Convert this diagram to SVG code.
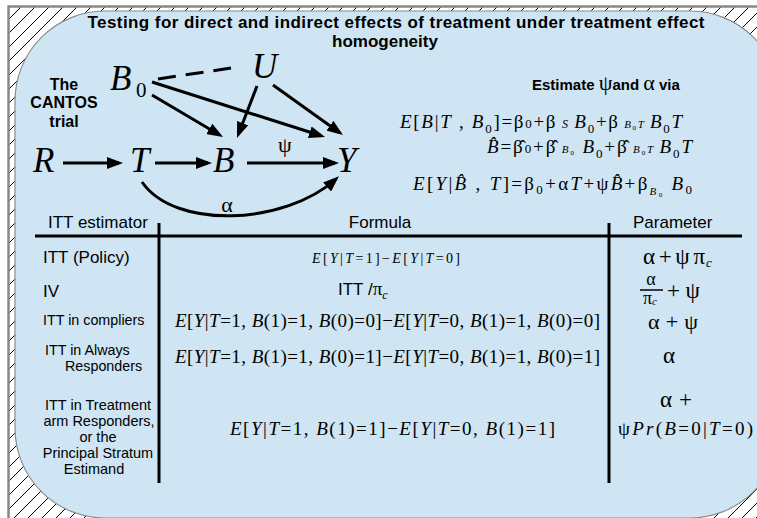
<svg xmlns="http://www.w3.org/2000/svg" width="757" height="518" viewBox="0 0 757 518">
<defs>
<pattern id="hatch" patternUnits="userSpaceOnUse" width="14" height="14">
<path d="M-1,15 L15,-1 M-1,1 L1,-1 M13,15 L15,13" stroke="#000" stroke-width="1" fill="none"/>
</pattern>
<marker id="arr" markerUnits="userSpaceOnUse" markerWidth="16" markerHeight="12" refX="12" refY="6" orient="auto">
<path d="M0,0 L16,6 L0,12 z" fill="#000"/>
</marker>
<style>
.sans { font-family: "Liberation Sans", Arial, sans-serif; fill: #000; }
.serif { font-family: "Liberation Serif", "Times New Roman", serif; fill: #000; }
.b { font-weight: bold; }
.i { font-style: italic; }
.dag { font-size: 35px; font-style: italic; }
.conn { stroke: #000; stroke-width: 3; fill: none; }
.rule { stroke: #000; stroke-width: 3; fill: none; }
</style>
</defs>

<rect x="0" y="0" width="757" height="518" fill="#fff"/>
<rect x="9" y="7" width="748" height="511" fill="url(#hatch)"/>
<rect x="15" y="11" width="765" height="507" rx="90" ry="90" fill="#cfe5f3" stroke="#8c8c8c" stroke-width="1.2"/>
<path d="M8.5,518 V6.5 H757" fill="none" stroke="#888" stroke-width="2.5"/>

<g id="title">
<text class="sans b" x="396" y="28" font-size="17" textLength="617" text-anchor="middle">Testing for direct and indirect effects of treatment under treatment effect</text>
<text class="sans b" x="385" y="47" font-size="17" text-anchor="middle">homogeneity</text>
</g>

<g id="cantos-label">
<text class="sans b" font-size="16" text-anchor="middle"><tspan x="64" y="90">The</tspan><tspan x="64" y="108">CANTOS</tspan><tspan x="64" y="127">trial</tspan></text>
</g>

<g id="connectors">
<line class="conn" x1="158" y1="79" x2="231" y2="68" stroke-dasharray="18 10"/>
<line class="conn" x1="152" y1="95" x2="219.6" y2="135" marker-end="url(#arr)"/>
<line class="conn" x1="152" y1="82" x2="321.2" y2="135.8" marker-end="url(#arr)"/>
<line class="conn" x1="257" y1="86" x2="238.4" y2="134.3" marker-end="url(#arr)"/>
<line class="conn" x1="273" y1="85" x2="339.7" y2="132.7" marker-end="url(#arr)"/>
<line class="conn" x1="63" y1="163" x2="119" y2="163" marker-end="url(#arr)"/>
<line class="conn" x1="155" y1="163" x2="208" y2="163" marker-end="url(#arr)"/>
<line class="conn" x1="247" y1="163" x2="335" y2="163" marker-end="url(#arr)"/>
<path class="conn" d="M142,182 C175,230 285,225 336,179" marker-end="url(#arr)"/>
<text class="serif" x="285" y="152" font-size="22" text-anchor="middle">ψ</text>
<text class="serif" x="227" y="212" font-size="22" text-anchor="middle">α</text>
</g>

<g id="node-B0"><text class="serif dag" x="110" y="90">B</text><text class="serif" x="136" y="97" font-size="21">0</text></g>
<g id="node-U"><text class="serif dag" x="252" y="78">U</text></g>
<g id="node-R"><text class="serif dag" x="33" y="172">R</text></g>
<g id="node-T"><text class="serif dag" x="130" y="172">T</text></g>
<g id="node-B"><text class="serif dag" x="213" y="172">B</text></g>
<g id="node-Y"><text class="serif dag" x="337" y="172">Y</text></g>

<g id="estimate">
<text x="532" y="90"><tspan class="sans b" font-size="15">Estimate </tspan><tspan class="serif" font-size="22">ψ</tspan><tspan class="sans b" font-size="15">and </tspan><tspan class="serif" font-size="22">α</tspan><tspan class="sans b" font-size="15"> via</tspan></text>
<text class="serif" x="400" y="128" font-size="19" textLength="282"><tspan class="i">E</tspan>[<tspan class="i">B</tspan>|<tspan class="i">T</tspan> , <tspan class="i">B</tspan><tspan font-size="13" dy="5">0</tspan><tspan dy="-5">]=β</tspan><tspan font-size="13">0</tspan>+β<tspan font-size="12" class="i"> S </tspan><tspan class="i">B</tspan><tspan font-size="13" dy="5">0</tspan><tspan dy="-5">+β</tspan><tspan font-size="11" class="i"> B</tspan><tspan font-size="7" dy="2">0</tspan><tspan font-size="11" class="i" dy="-2">T </tspan><tspan class="i">B</tspan><tspan font-size="13" dy="5">0</tspan><tspan class="i" dy="-5">T</tspan></text>
<text class="serif" x="487" y="153" font-size="19" textLength="205"><tspan class="i">B̂</tspan>=β̂<tspan font-size="13">0</tspan>+β̂<tspan font-size="11" class="i"> B</tspan><tspan font-size="7" dy="2">0</tspan><tspan class="i" dy="-2"> B</tspan><tspan font-size="13" dy="5">0</tspan><tspan dy="-5">+β̂</tspan><tspan font-size="11" class="i"> B</tspan><tspan font-size="7" dy="2">0</tspan><tspan font-size="11" class="i" dy="-2">T </tspan><tspan class="i">B</tspan><tspan font-size="13" dy="5">0</tspan><tspan class="i" dy="-5">T</tspan></text>
<text class="serif" x="413" y="190" font-size="19" textLength="279"><tspan class="i">E</tspan>[<tspan class="i">Y</tspan>|<tspan class="i">B̂</tspan> , <tspan class="i">T</tspan>]=β<tspan font-size="13" dy="4">0</tspan><tspan dy="-4">+α</tspan><tspan class="i">T</tspan>+ψ<tspan class="i">B̂</tspan>+β<tspan font-size="11" class="i" dy="5">B</tspan><tspan font-size="7" dy="2">0</tspan><tspan class="i" dy="-7"> B</tspan><tspan font-size="13" dy="4">0</tspan></text>
</g>

<g id="table">
<line class="rule" x1="35" y1="236" x2="742" y2="236"/>
<line class="rule" x1="159" y1="223" x2="159" y2="483"/>
<line class="rule" x1="609" y1="223" x2="609" y2="483"/>
<text class="sans" x="48" y="228" font-size="17">ITT estimator</text>
<text class="sans" x="380" y="228" font-size="17" text-anchor="middle">Formula</text>
<text class="sans" x="633" y="228" font-size="17">Parameter</text>

<text class="sans" x="43" y="263" font-size="17">ITT (Policy)</text>
<text class="sans" x="43" y="297" font-size="17">IV</text>
<text class="sans" x="43" y="325" font-size="14.3">ITT in compliers</text>
<text class="sans" font-size="14.3"><tspan x="45" y="355">ITT in Always</tspan><tspan x="65" y="371">Responders</tspan></text>
<text class="sans" font-size="14.5" text-anchor="middle"><tspan x="98" y="410">ITT in Treatment</tspan><tspan x="99" y="426">arm Responders,</tspan><tspan x="98" y="442">or the</tspan><tspan x="98" y="458">Principal Stratum</tspan><tspan x="94" y="474">Estimand</tspan></text>

<text class="serif" x="312" y="263" font-size="14" textLength="148"><tspan class="i">E</tspan>[<tspan class="i">Y</tspan>|<tspan class="i">T</tspan>=1]−<tspan class="i">E</tspan>[<tspan class="i">Y</tspan>|<tspan class="i">T</tspan>=0]</text>
<text x="338" y="295"><tspan class="sans" font-size="17">ITT /</tspan><tspan class="serif" font-size="19">π</tspan><tspan class="serif i" font-size="12" dy="4">c</tspan></text>
<text class="serif" x="175" y="327" font-size="19" textLength="425"><tspan class="i">E</tspan>[<tspan class="i">Y</tspan>|<tspan class="i">T</tspan>=1, <tspan class="i">B</tspan>(1)=1, <tspan class="i">B</tspan>(0)=0]−<tspan class="i">E</tspan>[<tspan class="i">Y</tspan>|<tspan class="i">T</tspan>=0, <tspan class="i">B</tspan>(1)=1, <tspan class="i">B</tspan>(0)=0]</text>
<text class="serif" x="175" y="363" font-size="19" textLength="425"><tspan class="i">E</tspan>[<tspan class="i">Y</tspan>|<tspan class="i">T</tspan>=1, <tspan class="i">B</tspan>(1)=1, <tspan class="i">B</tspan>(0)=1]−<tspan class="i">E</tspan>[<tspan class="i">Y</tspan>|<tspan class="i">T</tspan>=0, <tspan class="i">B</tspan>(1)=1, <tspan class="i">B</tspan>(0)=1]</text>
<text class="serif" x="230" y="435" font-size="19" textLength="325"><tspan class="i">E</tspan>[<tspan class="i">Y</tspan>|<tspan class="i">T</tspan>=1, <tspan class="i">B</tspan>(1)=1]−<tspan class="i">E</tspan>[<tspan class="i">Y</tspan>|<tspan class="i">T</tspan>=0, <tspan class="i">B</tspan>(1)=1]</text>

<text class="serif" x="643" y="264" font-size="23" textLength="62">α+ψπ</text>
<text class="serif i" x="706" y="267" font-size="13">c</text>
<text class="serif" x="651" y="284.5" font-size="18" text-anchor="middle">α</text>
<line x1="640" y1="290" x2="663" y2="290" stroke="#000" stroke-width="1.5"/>
<text class="serif" x="643" y="304" font-size="18">π<tspan class="i" font-size="11" dy="1">c</tspan></text>
<text class="serif" x="667" y="298" font-size="23" textLength="33">+ψ</text>
<text class="serif" x="648" y="329" font-size="22" textLength="50">α+ψ</text>
<text class="serif" x="663" y="363" font-size="23">α</text>
<text class="serif" x="660" y="407" font-size="23" textLength="32">α+</text>
<text class="serif" x="618" y="435" font-size="19" textLength="135">ψ<tspan class="i">Pr</tspan>(<tspan class="i">B</tspan>=0|<tspan class="i">T</tspan>=0)</text>
</g>
</svg>
